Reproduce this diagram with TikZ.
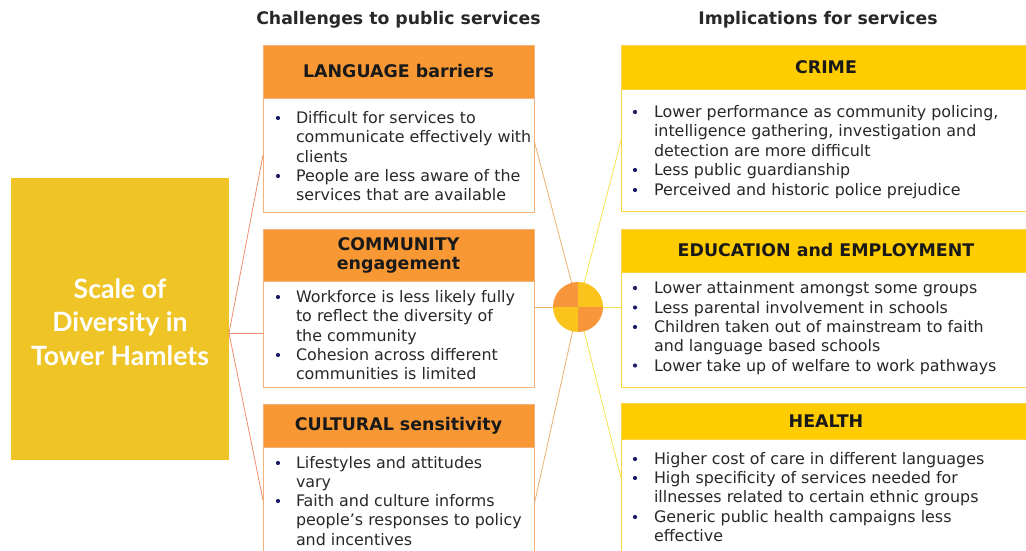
\documentclass[tikz,border=0pt]{standalone}
\usepackage{fontspec}
\setmainfont{DejaVu Sans}
\newfontfamily\titlefont{Lato}
\usetikzlibrary{calc}

\definecolor{hdrorange}{RGB}{248,152,52}
\definecolor{hdryellow}{RGB}{255,204,0}
\definecolor{srcgold}{RGB}{238,196,38}
\definecolor{edgeorange}{RGB}{245,178,120}
\definecolor{edgeyellow}{RGB}{250,214,60}
\definecolor{fanred}{RGB}{240,140,110}
\definecolor{linkorange}{RGB}{238,176,110}
\definecolor{linkyellow}{RGB}{246,224,80}
\definecolor{hubcorange}{RGB}{247,150,58}
\definecolor{hubcyellow}{RGB}{250,196,28}
\definecolor{bodyink}{RGB}{40,40,40}
\definecolor{bulletnavy}{RGB}{30,30,100}

\begin{document}
\begin{tikzpicture}[x=1pt,y=-1pt,
  every node/.style={inner sep=0pt,outer sep=0pt},
  coltitle/.style={font=\bfseries\fontsize{17.3}{20}\selectfont,text=bodyink},
  ohead/.style={fill=hdrorange,draw=edgeorange,line width=0.6pt,minimum width=271pt,
     font=\bfseries\fontsize{17.4}{19}\selectfont,text=black!90,align=center},
  obody/.style={fill=white,draw=edgeorange,line width=0.8pt,minimum width=271pt,anchor=north},
  yhead/.style={fill=hdryellow,draw=edgeyellow,line width=0.6pt,minimum width=410pt,
     font=\bfseries\fontsize{17.4}{19}\selectfont,text=black!90,align=center},
  ybody/.style={fill=white,draw=edgeyellow,line width=0.8pt,minimum width=410pt,anchor=north},
  btext/.style={anchor=north west,align=left,text=bodyink,
     font=\fontsize{15.9}{19.4}\selectfont},
  bul/.style={fill=bulletnavy},
  fanline/.style={draw=fanred,line width=0.8pt},
  olink/.style={draw=linkorange,line width=0.8pt},
  ylink/.style={draw=linkyellow,line width=0.8pt}
]
\useasboundingbox (0,0) rectangle (1026,551);
\clip (0,0) rectangle (1026,551);

% column titles
\node[coltitle,anchor=base] (ctitle) at (398.5,25) {Challenges to public services};
\node[coltitle,anchor=base] (ititle) at (818,25) {Implications for services};

% source box and its label
\node[fill=srcgold,minimum width=218pt,minimum height=282pt,anchor=north west]
      (src) at (11,178) {};
\node[text=white,align=center,font=\titlefont\bfseries\fontsize{26.6}{33.5}\selectfont]
      (srclabel) at ($(src.center)+(0,3)$) {Scale of\\Diversity in\\Tower Hamlets};

% challenge boxes (orange)
\node[ohead,minimum height=53pt] (langhead) at (398.5,71.5) {LANGUAGE barriers};
\node[obody,minimum height=114pt] (langbody) at (langhead.south) {};
\node[ohead,minimum height=52pt] (commhead) at (398.5,255) {COMMUNITY\\engagement};
\node[obody,minimum height=106pt] (commbody) at (commhead.south) {};
\node[ohead,minimum height=43pt] (culthead) at (398.5,425.5) {CULTURAL sensitivity};
\node[obody,minimum height=106pt] (cultbody) at (culthead.south) {};

% implication boxes (yellow)
\node[yhead,minimum height=44pt] (crimehead) at (826,67) {CRIME};
\node[ybody,minimum height=122pt] (crimebody) at (crimehead.south) {};
\node[yhead,minimum height=43pt] (eduhead) at (826,250.5) {EDUCATION and EMPLOYMENT};
\node[ybody,minimum height=115pt] (edubody) at (eduhead.south) {};
\node[yhead,minimum height=36pt] (healthhead) at (826,421) {HEALTH};
\node[ybody,minimum height=114pt] (healthbody) at (healthhead.south) {};

% hub
\coordinate (hub) at (578,307);

% connectors: source fan
\coordinate (fan) at ($(src.north east)!0.55!(src.south east)$);
\draw[fanline] (fan) -- (langbody.west);
\draw[fanline] (fan) -- (fan -| commbody.west);
\draw[fanline] (fan) -- (cultbody.west);

% connectors: challenges to hub
\coordinate (lang-out) at ($(langbody.north east)!0.37!(langbody.south east)$);
\coordinate (comm-out) at (hub -| commbody.east);
\coordinate (cult-out) at ($(cultbody.north east)!0.55!(cultbody.south east)$);
\draw[olink] (lang-out) -- (hub);
\draw[olink] (comm-out) -- (hub);
\draw[olink] (cult-out) -- (hub);

% connectors: hub to implications
\coordinate (crime-in) at ($(crimebody.north west)!0.42!(crimebody.south west)$);
\coordinate (edu-in) at (hub -| edubody.west);
\coordinate (health-in) at ($(healthbody.north west)!0.34!(healthbody.south west)$);
\draw[ylink] (hub) -- (crime-in);
\draw[ylink] (hub) -- (edu-in);
\draw[ylink] (hub) -- (health-in);

% hub disc in four quarters
\begin{scope}
  \clip (hub) circle (25);
  \fill[hubcorange] (hub) rectangle ++(-26,-26);
  \fill[hubcyellow] (hub) rectangle ++(26,-26);
  \fill[hubcyellow] (hub) rectangle ++(-26,26);
  \fill[hubcorange] (hub) rectangle ++(26,26);
\end{scope}

% challenge texts
\node[btext] (l1) at (296,111) {\rule{0pt}{12.5pt}Difficult for services to\\communicate effectively with\\clients};
\node[btext] (l2) at (296,169) {\rule{0pt}{12.5pt}People are less aware of the\\services that are available};
\node[btext] (c1) at (296,290) {\rule{0pt}{12.5pt}Workforce is less likely fully\\to reflect the diversity of\\the community};
\node[btext] (c2) at (296,348) {\rule{0pt}{12.5pt}Cohesion across different\\communities is limited};
\node[btext] (s1) at (296,456) {\rule{0pt}{12.5pt}Lifestyles and attitudes\\vary};
\node[btext] (s2) at (296,494) {\rule{0pt}{12.5pt}Faith and culture informs\\people’s responses to policy\\and incentives};

% implication texts
\node[btext] (r1) at (654,105) {\rule{0pt}{12.5pt}Lower performance as community policing,\\intelligence gathering, investigation and\\detection are more difficult};
\node[btext] (r2) at (654,163) {\rule{0pt}{12.5pt}Less public guardianship};
\node[btext] (r3) at (654,183) {\rule{0pt}{12.5pt}Perceived and historic police prejudice};
\node[btext] (e1) at (654,281) {\rule{0pt}{12.5pt}Lower attainment amongst some groups};
\node[btext] (e2) at (654,300.5) {\rule{0pt}{12.5pt}Less parental involvement in schools};
\node[btext] (e3) at (654,320) {\rule{0pt}{12.5pt}Children taken out of mainstream to faith\\and language based schools};
\node[btext] (e4) at (654,358.5) {\rule{0pt}{12.5pt}Lower take up of welfare to work pathways};
\node[btext] (h1) at (654,452) {\rule{0pt}{12.5pt}Higher cost of care in different languages};
\node[btext] (h2) at (654,471) {\rule{0pt}{12.5pt}High specificity of services needed for\\illnesses related to certain ethnic groups};
\node[btext] (h3) at (654,510) {\rule{0pt}{12.5pt}Generic public health campaigns less\\effective};

% bullets
\foreach \n in {l1,l2,c1,c2,s1,s2}{\fill[bul] ($(\n.north west)+(-18,7)$) circle (2.1);}
\foreach \n in {r1,r2,r3,e1,e2,e3,e4,h1,h2,h3}{\fill[bul] ($(\n.north west)+(-19,7)$) circle (2.1);}
\end{tikzpicture}
\end{document}
